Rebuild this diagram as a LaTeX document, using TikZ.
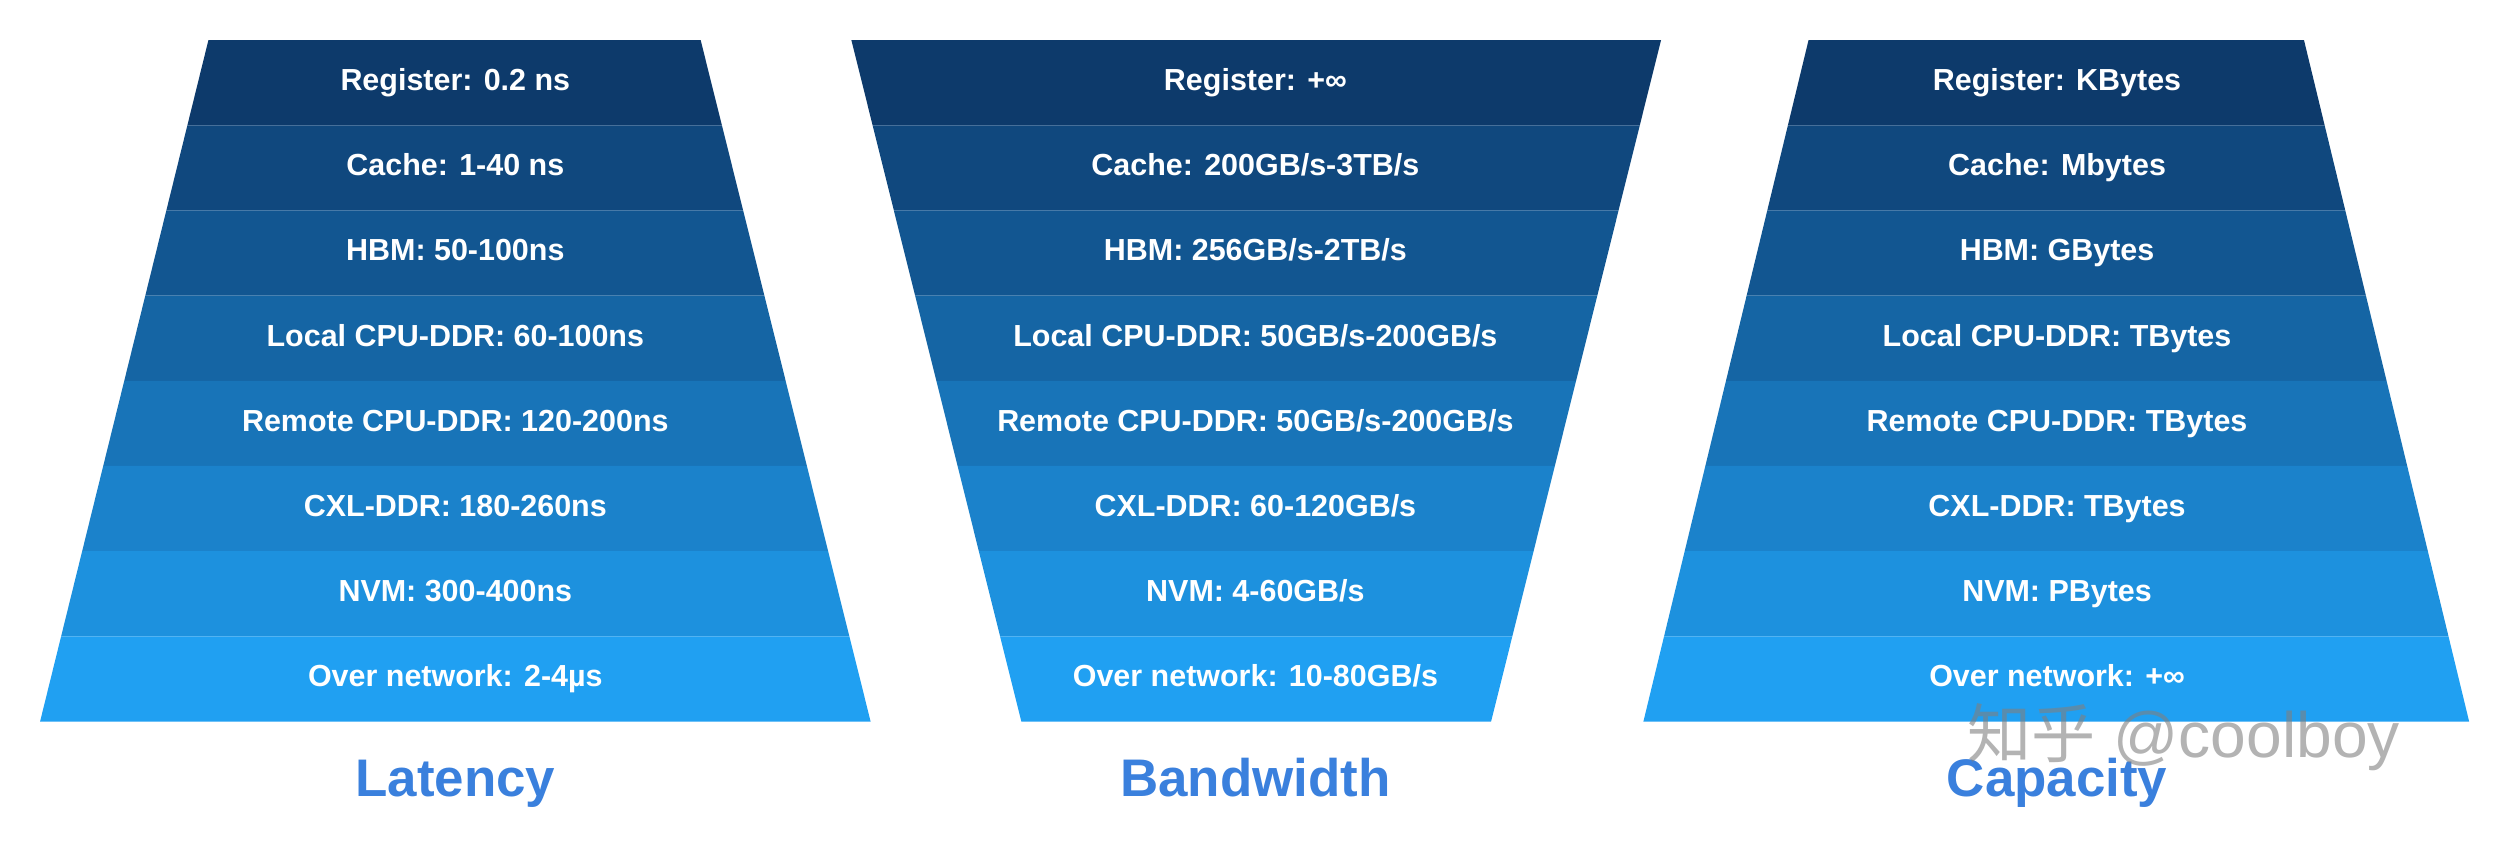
\documentclass[tikz,border=0pt]{standalone}
\usepackage{fontspec}
\setmainfont{Liberation Sans}
\newfontfamily\cjk{Noto Sans CJK SC}
\usepackage{tikz}
\definecolor{topc}{HTML}{0D3A6B}
\definecolor{botc}{HTML}{20A0F2}
\definecolor{titlec}{HTML}{3A80DD}
\tikzset{
  tier/.style={text=white, text height=14pt, text depth=4pt, font=\bfseries\fontsize{19}{21}\selectfont},
  title/.style={text=titlec, text height=24pt, text depth=4pt, font=\bfseries\fontsize{33}{36}\selectfont}
}
\begin{document}
\begin{tikzpicture}[x=1pt, y=-1pt]
\useasboundingbox (0,0) rectangle (1568,531);

% latency
\foreach \t [count=\i from 0] in {Register: 0.2 ns, Cache: 1-40 ns, HBM: 50-100ns,
  Local CPU-DDR: 60-100ns, Remote CPU-DDR: 120-200ns, CXL-DDR: 180-260ns,
  NVM: 300-400ns, Over network: 2-4µs} {
  \pgfmathsetmacro\ya{25+53.125*\i}
  \pgfmathsetmacro\yb{\ya+53.125}
  \pgfmathsetmacro\fa{\i/8}
  \pgfmathsetmacro\fb{(\i+1)/8}
  \pgfmathtruncatemacro\p{100*\i/7}
  \fill[botc!\p!topc] ({130-105*\fa},\ya) -- ({437+106*\fa},\ya) -- ({437+106*\fb},\yb) -- ({130-105*\fb},\yb) -- cycle;
  \node[tier] (lat-\i) at (284,{\ya+26.5}) {\t};
}

% bandwidth
\foreach \t [count=\i from 0] in {Register: +∞, Cache: 200GB/s-3TB/s, HBM: 256GB/s-2TB/s,
  Local CPU-DDR: 50GB/s-200GB/s, Remote CPU-DDR: 50GB/s-200GB/s, CXL-DDR: 60-120GB/s,
  NVM: 4-60GB/s, Over network: 10-80GB/s} {
  \pgfmathsetmacro\ya{25+53.125*\i}
  \pgfmathsetmacro\yb{\ya+53.125}
  \pgfmathsetmacro\fa{\i/8}
  \pgfmathsetmacro\fb{(\i+1)/8}
  \pgfmathtruncatemacro\p{100*\i/7}
  \fill[botc!\p!topc] ({531+106*\fa},\ya) -- ({1036-106*\fa},\ya) -- ({1036-106*\fb},\yb) -- ({531+106*\fb},\yb) -- cycle;
  \node[tier] (bw-\i) at (783,{\ya+26.5}) {\t};
}

% capacity
\foreach \t [count=\i from 0] in {Register: KBytes, Cache: Mbytes, HBM: GBytes,
  Local CPU-DDR: TBytes, Remote CPU-DDR: TBytes, CXL-DDR: TBytes,
  NVM: PBytes, Over network: +∞} {
  \pgfmathsetmacro\ya{25+53.125*\i}
  \pgfmathsetmacro\yb{\ya+53.125}
  \pgfmathsetmacro\fa{\i/8}
  \pgfmathsetmacro\fb{(\i+1)/8}
  \pgfmathtruncatemacro\p{100*\i/7}
  \fill[botc!\p!topc] ({1128-103*\fa},\ya) -- ({1437+103*\fa},\ya) -- ({1437+103*\fb},\yb) -- ({1128-103*\fb},\yb) -- cycle;
  \node[tier] (cap-\i) at (1283,{\ya+26.5}) {\t};
}

\node[title] (latency) at (284,487) {Latency};
\node[title] (bandwidth) at (783,487) {Bandwidth};
\node[title] (capacity) at (1283,487) {Capacity};

\node[text=gray, opacity=0.6, font=\fontsize{40}{44}\selectfont] (mark) at (1362,460) {{\cjk 知乎} @coolboy};
\end{tikzpicture}
\end{document}
